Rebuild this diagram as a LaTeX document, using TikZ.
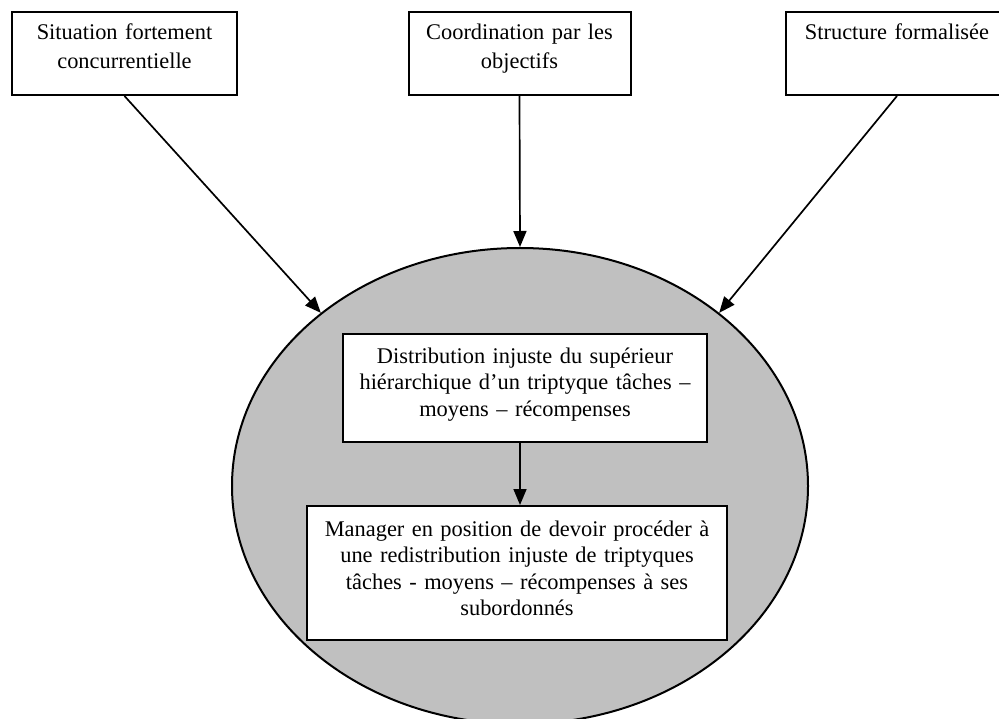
\documentclass[tikz,border=0pt]{standalone}
\usepackage{fontspec}
\setmainfont{Liberation Serif}
\usetikzlibrary{shapes.geometric,arrows.meta}

\begin{document}
\begin{tikzpicture}[x=1pt, y=-1pt, >={Triangle[length=16pt, width=13pt]},
    font=\fontsize{22.4}{28.5}\selectfont,
    topbox/.style={draw, line width=2pt, anchor=north, align=center,
      inner xsep=5pt, inner ysep=0pt, text width=212pt,
      text height=28pt, text depth=55pt},
    innerbox/.style={draw, fill=white, line width=2pt, anchor=north,
      align=center, inner xsep=5pt, inner ysep=0pt,
      font=\fontsize{22.4}{26.5}\selectfont},
    cause/.style={->, line width=1.7pt}]

  \definecolor{ellGray}{RGB}{192,192,192}

  \useasboundingbox (0,0) rectangle (999,719);

  % the three causes
  \node[topbox, text width=215pt] (sit) at (124.5,11) {Situation fortement\\concurrentielle};
  \node[topbox] (coord) at (519.5,11) {Coordination par les\\objectifs};
  \node[topbox] (struct) at (897,11) {Structure formalisée};

  % the grey situation and what happens in it
  \node[ellipse, draw, fill=ellGray, line width=2pt, minimum width=576pt,
    minimum height=476pt, inner sep=0pt] (ell) at (520,486) {};

  \node[innerbox, text width=354pt, text height=29pt, text depth=79pt] (distr) at (525,333)
    {Distribution injuste du supérieur\\hiérarchique d’un triptyque tâches –\\moyens – récompenses};
  \node[innerbox, text width=410pt, text height=30pt, text depth=104pt] (mgr) at (517,505)
    {Manager en position de devoir procéder à\\une redistribution injuste de triptyques\\tâches - moyens – récompenses à ses\\subordonnés};

  % arrows
  \draw[cause] (sit.south) -- (ell.139);
  \draw[cause] (coord.south) -- (ell.north);
  \draw[cause] (struct.south) -- (ell.41);
  \draw[cause] (distr.south -| ell.center) -- (mgr.north -| ell.center);

\end{tikzpicture}
\end{document}
